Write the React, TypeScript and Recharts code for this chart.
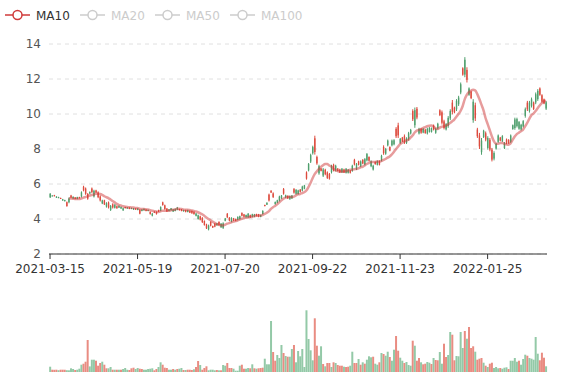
import React from 'react';
import { ComposedChart, BarChart, Bar, Line, XAxis, YAxis, CartesianGrid, Cell } from 'recharts';

const tickIndices = [0, 42, 84, 126, 168, 210];
const tickLabels = ['2021-03-15', '2021-05-19', '2021-07-20', '2021-09-22', '2021-11-23', '2022-01-25'];
const priceTicks = [2, 4, 6, 8, 10, 12, 14];
const legendNames = ['MA10', 'MA20', 'MA50', 'MA100'];
const activeLegend = ['MA10'];

const opens = [
  5.24,5.32,5.36,5.22,5.21,5.20,5.06,5.02,4.96,4.96,
  5.34,5.17,5.23,5.15,5.25,5.29,5.84,5.74,5.42,5.46,
  5.74,5.29,5.63,5.52,5.29,4.89,5.06,4.71,4.94,4.52,
  4.84,4.64,4.73,4.65,4.60,4.50,4.68,4.60,4.65,4.58,
  4.54,4.60,4.52,4.52,4.46,4.50,4.54,4.46,4.40,4.19,
  4.42,4.40,4.51,4.48,4.95,4.78,4.59,4.46,4.50,4.43,
  4.47,4.54,4.57,4.55,4.44,4.51,4.40,4.47,4.46,4.41,
  4.18,4.00,4.15,4.05,3.88,3.69,3.41,3.83,3.60,3.73,
  3.64,3.83,3.53,3.49,3.90,4.30,4.07,3.85,4.03,4.00,
  3.95,3.99,4.34,4.26,4.10,4.10,4.22,4.13,4.13,4.28,
  4.26,4.12,4.29,4.80,4.82,5.39,5.62,5.46,4.85,4.93,
  5.05,5.18,5.71,5.23,5.32,5.13,5.18,5.71,5.44,5.43,
  5.68,5.63,5.73,6.66,6.78,7.28,7.76,8.61,7.54,6.61,
  6.88,6.48,6.81,6.66,6.57,6.68,7.10,6.78,6.88,6.83,
  6.67,6.83,6.64,6.64,6.76,6.76,7.38,6.86,7.29,7.02,
  7.38,7.12,7.35,7.54,7.02,6.83,7.25,7.10,7.31,7.35,
  8.11,7.73,8.21,8.11,8.21,8.27,9.15,9.35,8.35,8.65,
  8.73,8.35,8.56,8.89,10.17,9.36,10.30,8.89,9.15,8.94,
  9.11,8.89,8.98,8.98,9.34,8.93,9.18,10.21,10.10,9.58,
  9.12,9.31,9.75,10.65,10.36,10.27,10.56,11.23,12.61,12.25,
  12.52,11.10,11.27,9.65,10.50,9.11,8.77,7.82,8.69,8.90,
  8.06,8.53,7.96,7.45,8.02,8.41,8.65,8.46,8.06,8.54,
  8.52,8.41,9.14,9.20,9.31,9.16,9.12,9.29,9.89,10.65,
  10.18,10.47,10.65,10.66,10.85,11.46,11.07,10.84,10.31,
];

const closes = [
  5.44,5.34,5.31,5.28,5.25,5.17,5.13,5.08,4.74,5.17,
  5.23,5.27,5.15,5.25,5.19,5.52,5.64,5.44,5.16,5.54,
  5.54,5.61,5.52,5.25,5.06,5.06,4.84,4.90,4.66,4.74,
  4.66,4.81,4.62,4.75,4.69,4.61,4.62,4.66,4.58,4.63,
  4.61,4.54,4.60,4.31,4.54,4.58,4.46,4.52,4.29,4.30,
  4.36,4.29,4.42,4.68,4.80,4.57,4.44,4.55,4.61,4.54,
  4.57,4.65,4.50,4.46,4.51,4.40,4.51,4.36,4.33,4.28,
  4.31,4.21,3.96,3.83,3.66,3.47,3.62,3.62,3.51,3.57,
  3.75,3.66,3.73,3.75,4.03,4.10,3.91,4.06,3.91,3.89,
  4.12,4.16,4.19,4.13,4.23,4.30,4.09,4.27,4.26,4.17,
  4.13,4.23,4.46,4.74,4.93,5.06,5.51,5.26,4.97,5.07,
  5.28,5.34,5.45,5.36,5.18,5.30,5.34,5.51,5.66,5.63,
  5.55,5.85,5.92,6.31,7.14,7.65,8.11,7.83,7.18,7.02,
  6.75,6.83,6.56,6.35,6.31,7.02,6.78,7.04,6.75,6.67,
  6.87,6.67,6.87,6.81,6.64,7.04,7.12,7.14,7.10,7.29,
  7.17,7.42,7.71,7.33,7.29,7.04,7.14,7.31,7.10,7.61,
  7.77,8.00,8.48,7.91,8.48,8.50,8.73,8.78,8.57,8.44,
  8.39,8.61,8.90,9.09,9.70,10.22,9.80,9.15,8.93,9.15,
  8.91,9.15,9.21,9.19,9.12,9.15,9.44,9.94,9.50,9.21,
  9.42,9.78,10.17,10.13,10.10,10.75,10.94,11.70,12.25,13.10,
  11.95,11.46,10.91,10.70,9.75,8.73,8.15,8.48,9.04,8.54,
  8.63,7.97,7.39,7.77,8.29,8.77,8.48,8.73,8.34,8.33,
  8.33,8.77,9.36,9.69,9.71,9.54,9.38,9.59,10.27,10.27,
  10.65,10.84,10.29,11.13,11.32,11.10,10.71,10.60,10.67,
];

const lows = [
  5.20,5.30,5.29,5.20,5.19,5.15,5.04,5.00,4.70,4.90,
  5.19,5.15,5.13,5.13,5.17,5.23,5.58,5.38,5.10,5.42,
  5.48,5.23,5.48,5.19,5.00,4.85,4.80,4.65,4.60,4.46,
  4.60,4.60,4.58,4.63,4.58,4.46,4.60,4.58,4.56,4.56,
  4.52,4.52,4.50,4.27,4.44,4.48,4.44,4.44,4.25,4.15,
  4.34,4.25,4.40,4.44,4.76,4.53,4.40,4.44,4.48,4.40,
  4.44,4.50,4.48,4.44,4.42,4.38,4.38,4.34,4.30,4.25,
  4.15,3.96,3.92,3.77,3.62,3.43,3.35,3.58,3.49,3.53,
  3.62,3.62,3.49,3.43,3.87,4.06,3.87,3.81,3.88,3.87,
  3.92,3.96,4.15,4.10,4.08,4.06,4.06,4.10,4.10,4.15,
  4.10,4.10,4.25,4.72,4.80,5.00,5.49,5.20,4.82,4.90,
  5.00,5.15,5.39,5.20,5.15,5.10,5.15,5.45,5.39,5.39,
  5.52,5.58,5.70,6.25,6.72,7.20,7.68,7.68,7.10,6.53,
  6.72,6.40,6.50,6.29,6.25,6.60,6.72,6.72,6.72,6.63,
  6.63,6.63,6.60,6.60,6.60,6.70,7.06,6.80,7.06,6.96,
  7.13,7.06,7.29,7.29,6.96,6.77,7.10,7.06,7.06,7.29,
  7.67,7.67,8.15,7.87,8.15,8.21,8.63,8.63,8.29,8.40,
  8.29,8.29,8.48,8.83,9.60,9.21,9.70,8.83,8.87,8.90,
  8.87,8.83,8.94,8.94,9.06,8.87,9.12,9.88,9.40,9.12,
  9.06,9.21,9.65,9.98,10.04,10.17,10.46,11.13,12.19,12.10,
  11.80,11.04,10.85,9.50,9.60,8.63,8.00,7.67,8.63,8.44,
  7.96,7.87,7.29,7.35,7.96,8.35,8.44,8.40,8.00,8.27,
  8.29,8.35,9.10,9.10,9.23,9.10,9.06,9.23,9.79,10.17,
  10.08,10.37,10.23,10.56,10.75,11.04,10.65,10.56,10.23,
];

const highs = [
  5.48,5.36,5.38,5.30,5.27,5.22,5.15,5.10,5.00,5.23,
  5.38,5.29,5.25,5.27,5.27,5.58,5.90,5.80,5.48,5.58,
  5.80,5.67,5.67,5.58,5.35,5.10,5.10,4.96,5.00,4.80,
  4.90,4.85,4.77,4.77,4.71,4.65,4.70,4.68,4.67,4.65,
  4.63,4.62,4.62,4.56,4.56,4.60,4.56,4.54,4.44,4.34,
  4.44,4.44,4.53,4.72,4.99,4.82,4.63,4.57,4.63,4.57,
  4.60,4.69,4.59,4.57,4.53,4.53,4.53,4.49,4.49,4.44,
  4.34,4.25,4.19,4.11,3.92,3.73,3.68,3.87,3.62,3.77,
  3.77,3.87,3.77,3.81,4.06,4.34,4.11,4.10,4.06,4.02,
  4.15,4.19,4.38,4.29,4.25,4.34,4.25,4.30,4.29,4.30,
  4.29,4.25,4.50,4.82,4.95,5.45,5.64,5.52,5.00,5.10,
  5.33,5.37,5.77,5.39,5.35,5.33,5.37,5.77,5.71,5.67,
  5.71,5.90,5.95,6.72,7.20,7.73,8.19,8.76,7.62,7.10,
  6.91,6.91,6.87,6.72,6.63,7.10,7.16,7.10,6.91,6.87,
  6.91,6.87,6.91,6.85,6.80,7.10,7.44,7.20,7.33,7.35,
  7.42,7.48,7.77,7.58,7.35,7.10,7.29,7.35,7.35,7.67,
  8.21,8.06,8.54,8.15,8.54,8.56,9.25,9.50,8.63,8.69,
  8.83,8.67,8.98,9.15,10.27,10.37,10.40,9.21,9.21,9.19,
  9.15,9.21,9.25,9.23,9.40,9.21,9.50,10.27,10.20,9.67,
  9.48,9.88,10.27,10.80,10.42,10.85,11.04,11.80,12.67,13.25,
  12.67,11.52,11.33,10.85,10.65,9.21,8.92,8.63,9.10,9.00,
  8.73,8.63,8.06,7.87,8.35,8.83,8.69,8.79,8.40,8.60,
  8.56,8.83,9.40,9.79,9.79,9.60,9.44,9.65,10.37,10.75,
  10.75,10.94,10.71,11.23,11.42,11.52,11.13,10.88,10.75,
];

const volumes = [
  53,23,22,23,18,23,23,23,18,17,
  37,30,20,23,33,73,83,103,320,56,
  123,123,113,63,90,103,73,37,37,50,
  23,23,23,23,23,30,40,23,20,37,
  43,30,40,33,30,23,23,30,33,37,
  17,30,50,97,73,43,40,23,23,30,
  23,30,33,40,20,20,23,23,20,27,
  50,110,70,23,40,57,17,23,23,17,
  20,17,17,70,63,90,40,40,33,13,
  13,63,73,33,33,40,37,77,37,33,
  37,40,43,133,77,77,510,200,113,170,
  140,270,190,160,153,153,230,270,97,210,
  157,230,50,617,330,217,117,537,263,163,
  257,80,57,90,90,50,97,90,70,63,
  63,53,50,53,63,203,90,90,130,73,
  97,83,123,157,147,153,83,73,97,190,
  180,163,203,150,113,223,360,213,143,113,
  90,100,70,63,313,263,113,140,97,77,
  83,100,93,80,140,120,117,200,83,283,
  150,170,400,373,117,160,157,400,240,410,
  333,450,240,257,203,123,133,140,93,63,
  50,83,93,40,50,37,40,33,43,47,
  30,113,113,140,103,113,73,130,173,163,
  140,133,123,350,183,117,193,143,57,
];

// G = rising day (green), R = falling day (red)
const volumeSides = [
  'GRRRGRRRGG','GGRGGGRRRG','GGRRRGRRGG','RGRGRGGGRR','RGGRRGGGGG',
  'RRGGRRRGGR','GRGGRGRRRG','RRGRRRGGGG','RGRGGRRRGG','GGRRGGRGRG',
  'RRRGGGGRRG','GGRGRGGRGG','GGGGGGGRRG','GRGRRGRGRR','RGRRGGRRGR',
  'GRGGGRGGRG','RGGRGGRRGG','RGGGRGRRGR','RGGRGRRGGR','RGGRRGGGGR',
  'GRRRGRRRGR','GRRGGGRGGG','RGGGGRGGGR','GGGGGRRRG',
].join('').split('');

const UP = '#4f9f6d';
const DOWN = '#dd4b3e';
const VOL_UP = '#93c9a7';
const VOL_DOWN = '#e98c82';
const MA_COLOR = '#cf3a3a';
const FONT = '"DejaVu Sans", sans-serif';

const ma10 = closes.map((_, i) => {
  if (i < 9) return null;
  let s = 0;
  for (let k = i - 9; k <= i; k++) s += closes[k];
  return s / 10;
});

const priceRows = closes.map((c, i) => ({
  i,
  range: [lows[i], highs[i]],
  open: opens[i],
  close: c,
  low: lows[i],
  high: highs[i],
  ma10: ma10[i],
}));

const volumeRows = volumes.map((v, i) => ({ i, v, side: volumeSides[i] }));

const Candle = (props: any) => {
  const { x, y, width, height, payload } = props;
  if (!payload || x == null || y == null) return null;
  const { open, close, low, high } = payload;
  const top = Math.min(y, y + height);
  const h = Math.abs(height);
  const span = high - low;
  const toY = (v: number) => (span === 0 ? top : top + ((high - v) / span) * h);
  const cx = x + width / 2;
  const up = close >= open;
  const color = up ? UP : DOWN;
  const bTop = toY(Math.max(open, close));
  const bBot = toY(Math.min(open, close));
  const bw = 1.4;
  return (
    <g>
      <line x1={cx} x2={cx} y1={top} y2={top + h} stroke={color} strokeWidth={1} />
      <rect x={cx - bw / 2} y={bTop} width={bw} height={Math.max(bBot - bTop, 1)} fill={color} />
    </g>
  );
};

const LegendBar = () => (
  <svg width={330} height={30} style={{ position: 'absolute', left: 0, top: 0 }}>
    {legendNames.map((name, k) => {
      const on = activeLegend.includes(name);
      const c = on ? MA_COLOR : '#cccccc';
      const x0 = 5 + k * 75;
      return (
        <g key={name} transform={`translate(${x0},0)`}>
          <line x1={0} x2={25} y1={15} y2={15} stroke={c} strokeWidth={1.5} />
          <circle cx={12.5} cy={15} r={4.5} fill="#fff" stroke={c} strokeWidth={1.5} />
          <text x={31} y={19.5} fontSize={12} fontFamily={FONT} fill={on ? '#333' : '#ccc'}>
            {name}
          </text>
        </g>
      );
    })}
  </svg>
);

export default function App() {
  return (
    <div style={{ position: 'absolute', left: 0, top: 0, width: 577, height: 380, background: '#fff', fontFamily: FONT }}>
      <div style={{ position: 'absolute', left: 0, top: 0 }}>
        <ComposedChart
          width={577}
          height={284}
          data={priceRows}
          margin={{ top: 44, right: 30, left: 0, bottom: 0 }}
          barCategoryGap="10%"
        >
          <CartesianGrid vertical={false} stroke="#e0e0e0" strokeDasharray="4 4" />
          <XAxis
            dataKey="i"
            type="category"
            ticks={tickIndices}
            interval={0}
            tickFormatter={(v: any) => tickLabels[tickIndices.indexOf(Number(v))] ?? ''}
            axisLine={{ stroke: '#333' }}
            tickLine={{ stroke: '#333' }}
            tickSize={5}
            tickMargin={5}
            height={30}
            tick={{ fontSize: 12, fill: '#333', fontFamily: FONT }}
          />
          <YAxis
            width={49}
            domain={[2, 14]}
            ticks={priceTicks}
            interval={0}
            allowDataOverflow
            axisLine={false}
            tickLine={false}
            tick={{ fontSize: 12, fill: '#555', fontFamily: FONT }}
          />
          <Bar dataKey="range" shape={Candle} isAnimationActive={false} />
          <Line
            dataKey="ma10"
            type="monotone"
            stroke={MA_COLOR}
            strokeOpacity={0.5}
            strokeWidth={2.5}
            dot={false}
            activeDot={false}
            connectNulls={false}
            isAnimationActive={false}
          />
        </ComposedChart>
      </div>
      <div style={{ position: 'absolute', left: 0, top: 290 }}>
        <BarChart
          width={577}
          height={90}
          data={volumeRows}
          margin={{ top: 10, right: 30, left: 49, bottom: 8 }}
          barCategoryGap="8%"
        >
          <XAxis dataKey="i" tick={false} tickLine={false} axisLine={{ stroke: '#333' }} height={0} />
          <YAxis hide domain={[0, 720]} allowDataOverflow />
          <Bar dataKey="v" isAnimationActive={false}>
            {volumeRows.map((r) => (
              <Cell key={r.i} fill={r.side === 'G' ? VOL_UP : VOL_DOWN} />
            ))}
          </Bar>
        </BarChart>
      </div>
      <LegendBar />
    </div>
  );
}
